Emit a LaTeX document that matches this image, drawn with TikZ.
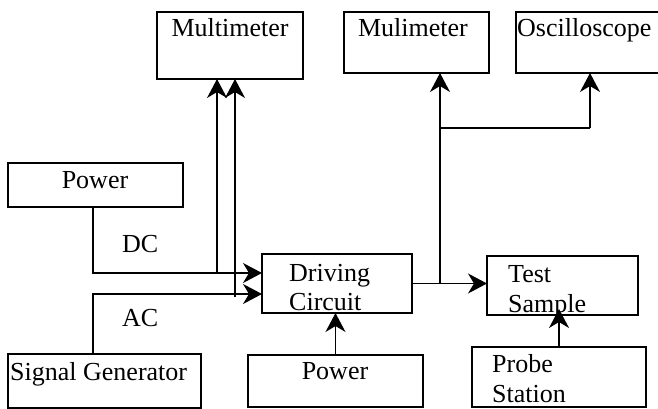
\documentclass[tikz,border=0pt]{standalone}
\usepackage{fontspec}
\setmainfont{Liberation Serif}
\usetikzlibrary{arrows.meta,calc}
\begin{document}
\begin{tikzpicture}[x=1pt,y=-1pt,
  box/.style={draw,line width=1.6pt,rectangle,inner sep=0pt,outer sep=0pt},
  lbl/.style={inner sep=0pt,font=\fontsize{26}{30}\selectfont},
  conn/.style={line width=1.5pt},
  arr/.style={conn,-{Stealth[length=19pt,width=20pt,inset=6pt]}}]
\useasboundingbox (0,0) rectangle (658,409);
% boxes
\node[box,minimum width=146pt,minimum height=67pt] (mm) at (230,45.5) {};
\node[box,minimum width=175pt,minimum height=44pt] (pwa) at (95.5,185) {};
\node[box,minimum width=193pt,minimum height=54pt] (sg) at (104.5,381) {};
\node[box,minimum width=150pt,minimum height=59pt] (drv) at (337,283.5) {};
\node[box,minimum width=175pt,minimum height=52pt] (pwb) at (335.5,381) {};
\node[box,minimum width=145pt,minimum height=61pt] (mu) at (416.5,42.5) {};
\node[box,minimum width=146pt,minimum height=61pt] (osc) at (589,42.5) {};
\node[box,minimum width=151pt,minimum height=59pt] (ts) at (562.5,285.5) {};
\node[box,minimum width=174pt,minimum height=60pt] (ps) at (559,377) {};
% labels
\node[lbl,anchor=base] (tmm) at (230,37) {Multimeter};
\node[lbl,anchor=base] (tmu) at (413,37) {Mulimeter};
\node[lbl,anchor=base west] (tosc) at (517,37) {Oscilloscope};
\node[lbl,anchor=base] (tpwa) at (95,188) {Power};
\node[lbl,anchor=base west] (tdc) at (122,252) {DC};
\node[lbl,anchor=base west] (tac) at (122,326) {AC};
\node[lbl,anchor=base west] (tsg) at (10,380) {Signal Generator};
\node[lbl,anchor=base] (tpwb) at (335,379) {Power};
\node[lbl,anchor=base west] (tdrv1) at (289,281) {Driving};
\node[lbl,anchor=base west] (tdrv2) at (289,310) {Circuit};
\node[lbl,anchor=base west] (tts1) at (508,282) {Test};
\node[lbl,anchor=base west] (tts2) at (508,312) {Sample};
\node[lbl,anchor=base west] (tps1) at (492,372) {Probe};
\node[lbl,anchor=base west] (tps2) at (492,402) {Station};
% connectors
\coordinate (dcin) at ([yshift=10.5pt]drv.west);
\coordinate (acin) at ([yshift=-10.5pt]drv.west);
\draw[arr] ([xshift=-2.5pt]pwa.south) |- (dcin);
\draw[arr] ([xshift=-11.5pt]sg.north) |- (acin);
\coordinate (ja) at (217,273);
\coordinate (jb) at (235,297);
\draw[arr] (ja) -- (ja |- mm.south);
\draw[arr] (jb) -- (jb |- mm.south);
\draw[arr] (drv.east) -- (drv.east -| ts.west);
\coordinate (jc) at (440,283.5);
\coordinate (jd) at (440,128);
\coordinate (je) at (590,128);
\draw[arr] (jc) -- (jc |- mu.south);
\draw[conn] (jd) -- (je);
\draw[arr] (je) -- (je |- osc.south);
\draw[arr] (pwb.north) -- (pwb.north |- drv.south);
\draw[arr,shorten >=-6pt] (ps.north) -- (ps.north |- ts.south);
\end{tikzpicture}
\end{document}
